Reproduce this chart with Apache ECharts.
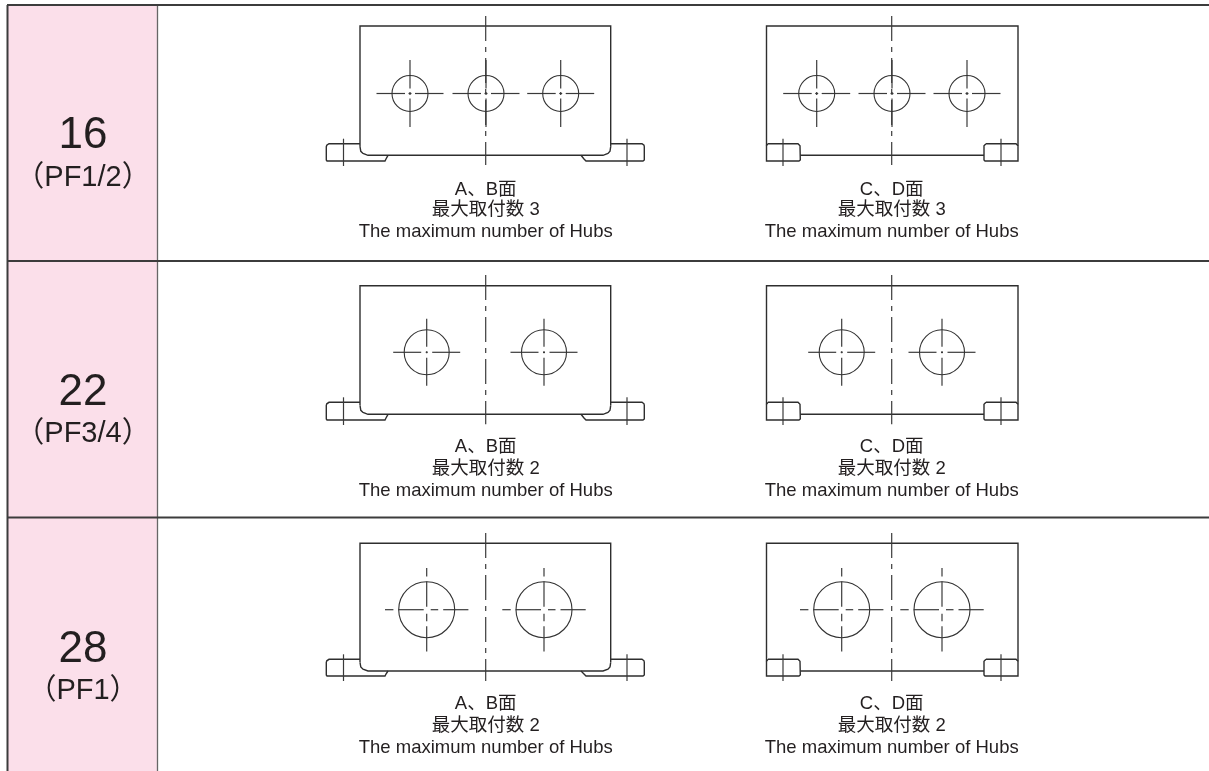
<!DOCTYPE html>
<html>
<head>
<meta charset="utf-8">
<title>Hubs</title>
<script src="https://cdn.jsdelivr.net/npm/echarts@6/dist/echarts.min.js"></script>
<style>
html,body{margin:0;padding:0;background:#fff;}
#main{width:1209px;height:771px;}
</style>
</head>
<body>
<div id="main"></div>
<script>
// table text
var sizes = ['16', '22', '28'];
var ports = ['（PF1/2）', '（PF3/4）', '（PF1）'];
var maxCounts = [3, 2, 2];
var faceNames = ['A、B面', 'C、D面'];
var hubsText = 'The maximum number of Hubs';

// table rules, read in pixels of the drawing
var rowLines = [5, 261, 517.5];
var rowBottoms = [261, 517.5, 771];
var sizeY = [135.5, 393, 650];
var portY = [178, 434, 691];
var captionY = [[189.5, 209.5, 231.5], [446.5, 468.5, 490.5], [703.5, 725.5, 747.5]];

// drawing levels for each row
var topY = [26, 285.7, 543.3];
var footTopY = [143.7, 402.3, 659.3];
var bodyBottomY = [155.3, 414.3, 671];
var footBottomY = [161, 420, 676];
var centreTopY = [16, 275, 533];
var centreBottomY = [165, 424.3, 681];

// holes
var holeXAB = [[410, 486, 560.7], [426.7, 544], [426.7, 544]];
var holeXCD = [[816.7, 892, 967], [841.7, 942], [841.7, 942]];
var holeY = [93.5, 352.3, 609.7];
var holeR = [18, 22.5, 28];
var crossParts = [
    [[-33.5, -5], [-1.5, 1.5], [5, 33.5]],
    [[-33.5, -5.5], [-1, 1], [5.5, 33.5]],
    [[-41.7, -33.3], [-28.3, -3], [4, 11.5], [16.5, 41.7]]
];

var centreAB = 485.7;
var centreCD = 891.7;

var segs = [];      // outlines
var thinSegs = [];  // centre lines
var circles = [];
var cells = [];
var labels = [];

function pushCross(list, cx, cy, parts) {
    parts.forEach(function (p) {
        list.push([[cx + p[0], cy], [cx + p[1], cy]]);
        list.push([[cx, cy + p[0]], [cx, cy + p[1]]]);
    });
}

function centreLine(list, x, y0, y1) {
    // chain line, long then short
    var y = y0;
    while (y < y1) {
        list.push([[x, y], [x, Math.min(y + 25, y1)]]);
        if (y + 31 < y1) {
            list.push([[x, y + 31], [x, Math.min(y + 36, y1)]]);
        }
        y += 42;
    }
}

sizes.forEach(function (s, i) {
    var t = topY[i], f = footTopY[i], b = bodyBottomY[i], g = footBottomY[i];

    cells.push([8, rowLines[i], 157.5, rowBottoms[i]]);

    // A, B face
    segs.push([[360, f + 3], [360, t], [610.7, t], [610.7, f + 3]]);
    segs.push([[360, f + 3], [360.8, b - 4], [363, b - 1.8], [368, b], [603, b], [608, b - 1.8], [610, b - 4], [610.7, f + 3]]);
    segs.push([[360, f], [329, f], [326.8, f + 1.5], [326.3, f + 3], [326.3, g - 1], [327, g], [385, g], [386, g - 2], [388, b]]);
    segs.push([[610.7, f], [642, f], [644, f + 1.5], [644.3, f + 3], [644.3, g - 1], [643, g], [586, g], [584, g - 2], [581, b]]);
    thinSegs.push([[343.5, f - 5], [343.5, g + 5]]);
    thinSegs.push([[627, f - 5], [627, g + 5]]);
    centreLine(thinSegs, centreAB, centreTopY[i], centreBottomY[i]);

    // C, D face
    segs.push([[766.5, f + 2], [766.5, t], [1018, t], [1018, f + 2]]);
    segs.push([[768, f], [798, f], [800, f + 2], [800.3, g - 1], [799, g], [766.5, g], [766.5, f + 2], [768, f]]);
    segs.push([[986, f], [1016, f], [1018, f + 2], [1018, g], [985, g], [984, g - 1], [984, f + 2], [986, f]]);
    segs.push([[800.3, b], [984, b]]);
    thinSegs.push([[783, f - 5], [783, g + 5]]);
    thinSegs.push([[1001, f - 5], [1001, g + 5]]);
    centreLine(thinSegs, centreCD, centreTopY[i], centreBottomY[i]);

    // holes
    holeXAB[i].concat(holeXCD[i]).forEach(function (x) {
        circles.push([x, holeY[i], holeR[i]]);
        pushCross(thinSegs, x, holeY[i], crossParts[i]);
    });

    // captions
    [centreAB, centreCD].forEach(function (x, k) {
        labels.push([x, captionY[i][0], faceNames[k]]);
        labels.push([x, captionY[i][1], '最大取付数 ' + maxCounts[i]]);
        labels.push([x, captionY[i][2], hubsText]);
    });
});

var sizeLabels = sizes.map(function (s, i) { return [83, sizeY[i], s]; });
var portLabels = ports.map(function (s, i) { return [83, portY[i], s]; });

function lineSeries(list, width, color) {
    return {
        type: 'custom',
        silent: true,
        clip: false,
        data: list.map(function (pts, idx) { return [idx]; }),
        encode: { x: 0 },
        renderItem: function (params, api) {
            var pts = list[api.value(0)].map(function (p) { return api.coord(p); });
            return {
                type: 'polyline',
                shape: { points: pts },
                style: { fill: 'none', stroke: color, lineWidth: width }
            };
        }
    };
}

function textSeries(list, size, color) {
    return {
        type: 'scatter',
        silent: true,
        symbolSize: 0.01,
        itemStyle: { opacity: 1 },
        data: list,
        label: {
            show: true,
            position: 'inside',
            opacity: 1,
            formatter: function (p) { return p.value[2]; },
            fontFamily: '"Liberation Sans", "Noto Sans CJK JP", sans-serif',
            fontSize: size,
            color: color
        }
    };
}

var myChart = echarts.init(document.getElementById('main'));
var option = {
    animation: false,
    grid: { left: 0, right: 0, top: 0, bottom: 0 },
    xAxis: { type: 'value', min: 0, max: 1209, show: false },
    yAxis: { type: 'value', min: 0, max: 771, inverse: true, show: false },
    series: [
        {
            type: 'custom',
            silent: true,
            data: cells,
            encode: { x: 0, y: 1 },
            renderItem: function (params, api) {
                var a = api.coord([api.value(0), api.value(1)]);
                var b = api.coord([api.value(2), api.value(3)]);
                return {
                    type: 'rect',
                    shape: { x: a[0], y: a[1], width: b[0] - a[0], height: b[1] - a[1] },
                    style: { fill: '#fbdfea' }
                };
            }
        },
        lineSeries([[[157.5, 5], [157.5, 771]]], 1.3, '#666666'),
        lineSeries([[[7.5, 5], [7.5, 771]]], 2, '#3c3c3c'),
        lineSeries(rowLines.map(function (y) { return [[7, y], [1209, y]]; }), 2, '#3c3c3c'),
        lineSeries(segs, 1.4, '#2e2e2e'),
        lineSeries(thinSegs, 1.2, '#3a3a3a'),
        {
            type: 'custom',
            silent: true,
            data: circles,
            encode: { x: 0, y: 1 },
            renderItem: function (params, api) {
                var c = api.coord([api.value(0), api.value(1)]);
                var r = api.size([api.value(2), 0])[0];
                return {
                    type: 'circle',
                    shape: { cx: c[0], cy: c[1], r: r },
                    style: { fill: 'none', stroke: '#333333', lineWidth: 1.1 }
                };
            }
        },
        textSeries(sizeLabels, 44, '#231f20'),
        textSeries(portLabels, 29, '#231f20'),
        textSeries(labels, 18.5, '#231f20')
    ]
};
myChart.setOption(option);
</script>
</body>
</html>
